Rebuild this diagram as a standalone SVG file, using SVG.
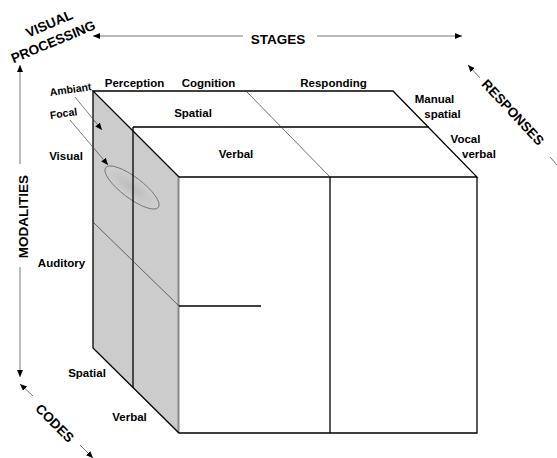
<svg xmlns="http://www.w3.org/2000/svg" width="557" height="458" viewBox="0 0 557 458">
<style>
text{font-family:"Liberation Sans",Arial,sans-serif;font-weight:bold;fill:#000}
.lbl{font-size:11.5px;text-anchor:middle}
.sm{font-size:10.5px;text-anchor:middle}
.ax{font-size:13.5px;text-anchor:middle}
.edge{stroke:#000;stroke-width:1.3;fill:none}
.thin{stroke:#333;stroke-width:0.7;fill:none}
.axis{stroke:#777;stroke-width:1;fill:none;marker-end:url(#ah)}
.ptr{stroke:#444;stroke-width:0.7;fill:none;marker-end:url(#ah)}
</style>
<defs>
<marker id="ah" markerUnits="userSpaceOnUse" markerWidth="8" markerHeight="6" refX="7" refY="3" orient="auto">
<path d="M0,0 L7,3 L0,6 Z" fill="#000"/>
</marker>
<radialGradient id="eg" cx="0.5" cy="0.5" r="0.5">
<stop offset="0" stop-color="#bdbdbd"/>
<stop offset="1" stop-color="#cfcfcf"/>
</radialGradient>
</defs>

<g id="cube">
<polygon points="93,91 179,177 179,433 93,348" fill="#cccccc"/>
<line x1="178.5" y1="177" x2="178.5" y2="433" stroke="#888" stroke-width="2"/>
<ellipse cx="132" cy="187.5" rx="33" ry="10.5" transform="rotate(37 132 187.5)" fill="url(#eg)" stroke="#666" stroke-width="0.8"/>
<polyline class="edge" points="179,177 93,91 393,91 477,177 179,177"/>
<line class="edge" x1="133" y1="127" x2="429" y2="127"/>
<line class="thin" x1="246" y1="91" x2="330" y2="177"/>
<polyline class="edge" points="93,91 93,348 179,433 477,433 477,177"/>
<line class="edge" x1="133" y1="127" x2="133" y2="387.5"/>
<line class="edge" x1="330" y1="177" x2="330" y2="433"/>
<line class="edge" x1="179" y1="306" x2="261" y2="306"/>
<line class="thin" x1="93" y1="222" x2="179" y2="306"/>
</g>

<g id="cube-labels">
<text class="lbl" x="134.5" y="87">Perception</text>
<text class="lbl" x="208.5" y="87">Cognition</text>
<text class="lbl" x="333.5" y="87">Responding</text>
<text class="lbl" x="193" y="117">Spatial</text>
<text class="lbl" x="236" y="158">Verbal</text>
<text class="lbl" x="434.5" y="103">Manual</text>
<text class="lbl" x="442.5" y="118">spatial</text>
<text class="lbl" x="465.5" y="143">Vocal</text>
<text class="lbl" x="479" y="158">verbal</text>
<text class="lbl" x="66" y="160">Visual</text>
<text class="lbl" x="61.5" y="267">Auditory</text>
<text class="lbl" x="87" y="377">Spatial</text>
<text class="lbl" x="129.5" y="421">Verbal</text>
<text class="sm" x="71" y="93" transform="rotate(-8 71 93)">Ambiant</text>
<text class="sm" x="64" y="117" transform="rotate(-8 64 117)">Focal</text>
</g>

<g id="connectors">
<line class="ptr" x1="75" y1="97" x2="102" y2="130"/>
<line class="ptr" x1="70" y1="120" x2="108" y2="165"/>
<line class="axis" x1="243" y1="36" x2="93" y2="36"/>
<line class="axis" x1="317" y1="36" x2="462" y2="36"/>
<line class="axis" x1="20" y1="164" x2="20" y2="65"/>
<line class="axis" x1="20" y1="267" x2="20" y2="377"/>
<line class="axis" x1="33" y1="396" x2="20" y2="384"/>
<line class="axis" x1="80" y1="445" x2="93" y2="458"/>
<line class="axis" x1="480" y1="78" x2="468" y2="65"/>
<line class="axis" x1="550" y1="157" x2="572" y2="182"/>
</g>

<g id="axis-labels">
<text class="ax" x="278" y="44">STAGES</text>
<text class="ax" x="51" y="28" transform="rotate(-23 51 28)">VISUAL</text>
<text class="ax" x="55" y="46" transform="rotate(-22.5 55 46)">PROCESSING</text>
<text class="ax" x="27.5" y="216.5" transform="rotate(-90 27.5 216.5)">MODALITIES</text>
<text class="ax" x="51.5" y="426.5" transform="rotate(45 51.5 426.5)">CODES</text>
<text class="ax" x="509.5" y="115.5" transform="rotate(47 509.5 115.5)">RESPONSES</text>
</g>
</svg>
